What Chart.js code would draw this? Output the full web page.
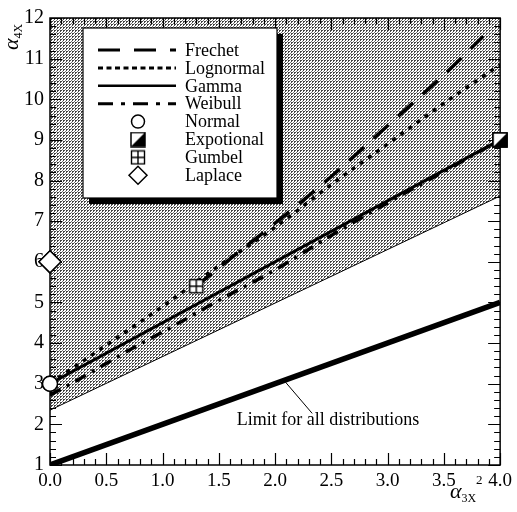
<!DOCTYPE html>
<html>
<head>
<meta charset="utf-8">
<script src="https://cdn.jsdelivr.net/npm/chart.js@4.4.1/dist/chart.umd.min.js"></script>
<style>html,body{margin:0;padding:0;background:#fff}</style>
</head>
<body>
<canvas id="myChart" width="517" height="512"></canvas>
<script>
'use strict';

// values (x = alpha3X^2, y = alpha4X)
const frechetX = [1.3, 1.5, 2.0, 2.5, 3.0, 3.5, 3.85];
const frechetY = [5.4, 5.85, 6.95, 8.1, 9.35, 10.6, 11.55];

const lognormalX = [0, 0.5, 1.0, 1.5, 2.0, 2.5, 3.0, 3.5, 4.0];
const lognormalY = [3.0, 3.95, 4.9, 5.9, 6.85, 7.9, 8.9, 9.9, 10.85];

const gammaX = [0, 4];
const gammaY = [3, 9];

const weibullX = [0, 0.25, 0.5, 0.75, 1.0, 1.5, 2.0, 2.5, 3.0, 3.5, 4.0];
const weibullY = [2.72, 3.1, 3.5, 3.9, 4.27, 5.05, 5.8, 6.65, 7.45, 8.22, 9.0];

const boundX = [0, 4];
const boundY = [2.35, 7.62];

const limitX = [0, 4];
const limitY = [1, 5];
const limitLabel = 'Limit for all distributions';
const leaderX = [2.08, 2.33];
const leaderY = [3.08, 2.27];
const limitTextPos = [1.66, 2.09];

const normalPt = [0, 3];
const expoPt = [4, 9];
const gumbelPt = [1.3, 5.4];
const laplacePt = [0, 6];

const xTicks = [0, 0.5, 1, 1.5, 2, 2.5, 3, 3.5, 4];
const yTicks = [1, 2, 3, 4, 5, 6, 7, 8, 9, 10, 11, 12];

const SERIF = '"Liberation Serif", "DejaVu Serif", serif';

function pts(xs, ys) {
  return xs.map((x, i) => ({ x: x, y: ys[i] }));
}

// stipple pattern for the shaded zone
function makePattern() {
  const c = document.createElement('canvas');
  c.width = 3; c.height = 3;
  const g = c.getContext('2d');
  g.fillStyle = '#fff';
  g.fillRect(0, 0, 3, 3);
  g.fillStyle = '#444';
  g.fillRect(0, 0, 2, 1);
  g.fillRect(0, 1, 1, 1);
  g.fillStyle = '#777';
  g.fillRect(2, 2, 1, 1);
  return g.createPattern(c, 'repeat');
}

function expoIcon() {
  const c = document.createElement('canvas');
  c.width = 16; c.height = 16;
  const g = c.getContext('2d');
  g.fillStyle = '#fff';
  g.fillRect(1, 1, 14, 14);
  g.fillStyle = '#000';
  g.beginPath();
  g.moveTo(1, 15); g.lineTo(15, 15); g.lineTo(15, 1); g.closePath();
  g.fill();
  g.lineWidth = 1.5;
  g.strokeRect(1, 1, 14, 14);
  return c;
}

function gumbelIcon() {
  const c = document.createElement('canvas');
  c.width = 16; c.height = 16;
  const g = c.getContext('2d');
  g.fillStyle = '#fff';
  g.fillRect(1, 1, 14, 14);
  g.strokeStyle = '#000';
  g.lineWidth = 1.4;
  g.strokeRect(1.5, 1.5, 13, 13);
  g.beginPath();
  g.moveTo(8, 1.5); g.lineTo(8, 14.5);
  g.moveTo(1.5, 8); g.lineTo(14.5, 8);
  g.stroke();
  return c;
}

const expoImg = expoIcon();
const gumbelImg = gumbelIcon();

const lineBase = { showLine: true, pointRadius: 0, borderColor: '#000', fill: false };

// lower "order" is painted later (on top)
const datasets = [
  Object.assign({}, lineBase, {
    label: 'bound', data: pts(boundX, boundY), borderWidth: 1,
    fill: 'end', backgroundColor: makePattern(), order: 10
  }),
  Object.assign({}, lineBase, { label: 'limit', data: pts(limitX, limitY), borderWidth: 5.5, order: 5 }),
  Object.assign({}, lineBase, { label: 'leader', data: pts(leaderX, leaderY), borderWidth: 1, order: 5 }),
  Object.assign({}, lineBase, {
    label: 'Weibull', data: pts(weibullX, weibullY), borderWidth: 3.5,
    borderDash: [12, 7, 3, 7], cubicInterpolationMode: 'monotone', legend: 1, order: 5
  }),
  Object.assign({}, lineBase, {
    label: 'Gamma', data: pts(gammaX, gammaY), borderWidth: 3, legend: 1, order: 4
  }),
  Object.assign({}, lineBase, {
    label: 'Lognormal', data: pts(lognormalX, lognormalY), borderWidth: 3.5,
    borderDash: [4, 6], cubicInterpolationMode: 'monotone', legend: 1, order: 5
  }),
  Object.assign({}, lineBase, {
    label: 'Frechet', data: pts(frechetX, frechetY), borderWidth: 3.5,
    borderDash: [20, 13], cubicInterpolationMode: 'monotone', legend: 1, order: 5
  }),
  {
    label: 'Normal', data: pts([normalPt[0]], [normalPt[1]]), pointStyle: 'circle',
    pointRadius: 7.5, backgroundColor: '#fff', borderColor: '#000', borderWidth: 1.5, clip: false, order: 1
  },
  {
    label: 'Expotional', data: pts([expoPt[0]], [expoPt[1]]), pointStyle: expoImg,
    pointRadius: 8, clip: false, order: 1
  },
  {
    label: 'Gumbel', data: pts([gumbelPt[0]], [gumbelPt[1]]), pointStyle: gumbelImg,
    pointRadius: 8, clip: false, order: 1
  },
  {
    label: 'Laplace', data: pts([laplacePt[0]], [laplacePt[1]]), pointStyle: 'rectRot',
    pointRadius: 11, backgroundColor: '#fff', borderColor: '#000', borderWidth: 1.5, clip: false, order: 1
  }
];

const legendOrder = ['Frechet', 'Lognormal', 'Gamma', 'Weibull', 'Normal', 'Expotional', 'Gumbel', 'Laplace'];
const legendDash = {
  Frechet: [22, 14], Lognormal: [5, 3.5], Gamma: [], Weibull: [15, 8, 4, 8]
};

const decor = {
  id: 'decor',
  afterDraw(chart) {
    const ctx = chart.ctx;
    const a = chart.chartArea;
    const xs = chart.scales.x, ys = chart.scales.y;
    ctx.save();
    ctx.strokeStyle = '#000';
    ctx.lineWidth = 1.2;
    // inward ticks on all four sides
    ctx.beginPath();
    for (let i = 0; i <= 40; i++) {
      const v = i / 10;
      const px = Math.round(xs.getPixelForValue(v)) + 0.5;
      const len = i % 5 === 0 ? 12 : 6;
      ctx.moveTo(px, a.bottom); ctx.lineTo(px, a.bottom - len);
      ctx.moveTo(px, a.top); ctx.lineTo(px, a.top + len);
    }
    for (let i = 0; i <= 55; i++) {
      const v = 1 + i / 5;
      const py = Math.round(ys.getPixelForValue(v)) + 0.5;
      const len = i % 5 === 0 ? 12 : 6;
      ctx.moveTo(a.left, py); ctx.lineTo(a.left + len, py);
      ctx.moveTo(a.right, py); ctx.lineTo(a.right - len, py);
    }
    ctx.stroke();
    ctx.lineWidth = 1.5;
    ctx.strokeRect(a.left, a.top, a.right - a.left, a.bottom - a.top);

    // markers sitting on the frame go over it
    ['Normal', 'Expotional', 'Laplace'].forEach(name => {
      const i = chart.data.datasets.findIndex(d => d.label === name);
      chart.getDatasetMeta(i).controller.draw();
    });

    // note for the limit line
    ctx.fillStyle = '#000';
    ctx.font = '18px ' + SERIF;
    ctx.textBaseline = 'middle';
    ctx.textAlign = 'left';
    ctx.fillText(limitLabel, xs.getPixelForValue(limitTextPos[0]), ys.getPixelForValue(limitTextPos[1]));

    // axis titles
    ctx.textBaseline = 'alphabetic';
    ctx.save();
    ctx.translate(18, 50);
    ctx.rotate(-Math.PI / 2);
    ctx.font = 'italic 22px ' + SERIF;
    ctx.fillText('\u03b1', 0, 0);
    const aw = ctx.measureText('\u03b1').width;
    ctx.font = '12px ' + SERIF;
    ctx.fillText('4X', aw, 4);
    ctx.restore();

    ctx.font = 'italic 22px ' + SERIF;
    ctx.fillText('\u03b1', 450, 498);
    const bw = ctx.measureText('\u03b1').width;
    ctx.font = '12px ' + SERIF;
    ctx.fillText('3X', 450 + bw, 502);
    ctx.font = '13px ' + SERIF;
    ctx.fillText('2', 476, 484);

    // legend box with shadow
    const bx = 83, by = 28, bw2 = 194, bh = 170;
    ctx.fillStyle = '#000';
    ctx.fillRect(bx + 6, by + 6, bw2, bh);
    ctx.fillStyle = '#fff';
    ctx.fillRect(bx, by, bw2, bh);
    ctx.lineWidth = 1.2;
    ctx.strokeRect(bx, by, bw2, bh);

    legendOrder.forEach((name, i) => {
      const ds = chart.data.datasets.find(d => d.label === name);
      const y = 50 + i * 17.9;
      if (ds.legend) {
        ctx.save();
        ctx.lineWidth = name === 'Gamma' ? 2.5 : 3;
        ctx.setLineDash(legendDash[name]);
        ctx.beginPath();
        ctx.moveTo(98, y); ctx.lineTo(176, y);
        ctx.stroke();
        ctx.restore();
      } else {
        ctx.save();
        ctx.fillStyle = ds.backgroundColor || '#fff';
        ctx.strokeStyle = '#000';
        ctx.lineWidth = 1.5;
        Chart.helpers.drawPoint(ctx, {
          pointStyle: ds.pointStyle,
          radius: name === 'Laplace' ? 9 : 6.5,
          rotation: 0,
          borderWidth: ds.borderWidth || 0
        }, 138, y);
        ctx.restore();
      }
      ctx.fillStyle = '#000';
      ctx.font = '18px ' + SERIF;
      ctx.textBaseline = 'middle';
      ctx.fillText(name, 185, y + 1);
    });
    ctx.restore();
  }
};

const ctx = document.getElementById('myChart').getContext('2d');
const myChart = new Chart(ctx, {
  type: 'scatter',
  data: { datasets: datasets },
  options: {
    responsive: false,
    animation: false,
    layout: { padding: { top: 13, right: 14, left: 0, bottom: 0 } },
    plugins: { legend: { display: false }, tooltip: { enabled: false } },
    scales: {
      x: {
        type: 'linear', min: 0, max: 4,
        afterFit: s => { s.height = 47; },
        afterBuildTicks: s => { s.ticks = xTicks.map(v => ({ value: v })); },
        grid: { display: false, drawTicks: false },
        border: { display: false },
        ticks: {
          padding: 5, color: '#000', font: { family: SERIF, size: 19 },
          maxRotation: 0, autoSkip: false,
          callback: v => Number(v).toFixed(1)
        }
      },
      y: {
        type: 'linear', min: 1, max: 12,
        afterFit: s => { s.width = 50; },
        afterBuildTicks: s => { s.ticks = yTicks.map(v => ({ value: v })); },
        grid: { display: false, drawTicks: false },
        border: { display: false },
        ticks: {
          padding: 6, color: '#000', font: { family: SERIF, size: 20 },
          autoSkip: false,
          callback: v => String(v)
        }
      }
    }
  },
  plugins: [decor]
});
</script>
</body>
</html>
